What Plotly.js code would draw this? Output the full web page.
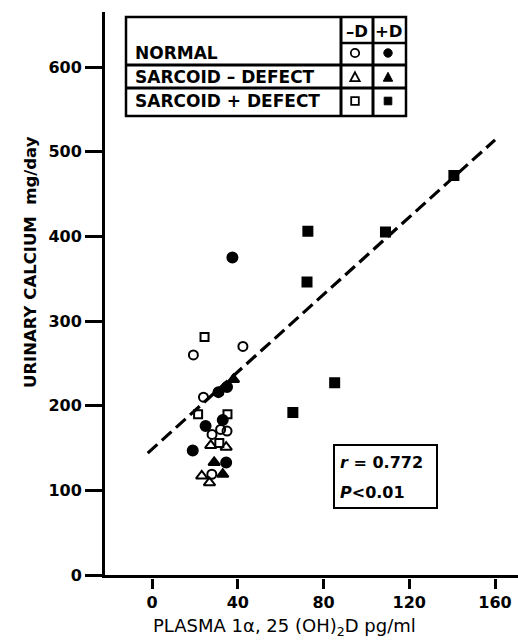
<!DOCTYPE html>
<html>
<head>
<meta charset="utf-8">
<script src="https://cdn.plot.ly/plotly-3.0.1.min.js"></script>
<style>html,body{margin:0;padding:0;background:#fff;}#chart{width:518px;height:642px;}</style>
</head>
<body>
<div id="chart"></div>
<script>
// ---- data ----
const normalMinusD_x = [19.3, 42.4, 24, 28, 32, 35, 27.9];
const normalMinusD_y = [260, 270, 210, 166, 172, 170, 119];
const normalPlusD_x = [37.5, 31, 35, 25, 33, 19, 34.6];
const normalPlusD_y = [375, 216, 222, 176, 183, 147, 133];
const sarcNoDefMinusD_x = [27.4, 34.6, 23.2, 26.8];
const sarcNoDefMinusD_y = [153, 151, 117, 109];
const sarcNoDefPlusD_x = [38, 29, 33];
const sarcNoDefPlusD_y = [231, 133, 119];
const sarcDefMinusD_x = [24.5, 21.5, 35.2, 31.4];
const sarcDefMinusD_y = [281, 190, 190, 156];
const sarcDefPlusD_x = [72.7, 72.3, 108.9, 140.8, 85.2, 65.7];
const sarcDefPlusD_y = [406, 346, 405, 472, 227, 192];
const regressionX = [-2, 160];
const regressionY = [144, 514];
const xTicks = [0, 40, 80, 120, 160];
const yTicks = [0, 100, 200, 300, 400, 500, 600];
const legendRows = ['NORMAL', 'SARCOID – DEFECT', 'SARCOID + DEFECT'];
const legendHeaders = ['–D', '+D'];
const statText = ['<i>r</i> = 0.772', '<i>P</i><0.01'];

// ---- layout geometry ----
const W = 518, H = 642, L = 105, R = 0, T = 12, B = 64;
const PW = W - L - R, PH = H - T - B;
const px = v => (v - L) / PW;
const py = v => (H - B - v) / PH;
const FONT = 'DejaVu Sans';

const mk = (x, y, symbol, size) => ({
  x: x, y: y, type: 'scatter', mode: 'markers', showlegend: false, hoverinfo: 'skip',
  marker: {symbol: symbol, size: size, color: '#000', line: {color: '#000', width: 2}}
});

const data = [
  {x: regressionX, y: regressionY, type: 'scatter', mode: 'lines', showlegend: false, hoverinfo: 'skip',
   line: {color: '#000', width: 3.2, dash: '13px,6px'}},
  // invisible helper so the lower tick-only x axis is drawn
  {x: regressionX, y: regressionY, xaxis: 'x2', type: 'scatter', mode: 'lines', showlegend: false,
   hoverinfo: 'skip', opacity: 0, line: {width: 0}},
  mk(normalMinusD_x, normalMinusD_y, 'circle-open', 9),
  mk(normalPlusD_x, normalPlusD_y, 'circle', 10),
  mk(sarcNoDefMinusD_x, sarcNoDefMinusD_y, 'triangle-up-open', 10),
  mk(sarcNoDefPlusD_x, sarcNoDefPlusD_y, 'triangle-up', 10),
  mk(sarcDefMinusD_x, sarcDefMinusD_y, 'square-open', 8),
  mk(sarcDefPlusD_x, sarcDefPlusD_y, 'square', 9)
];

// legend table shapes
const shapes = [];
const line = (x0, y0, x1, y1, w) => shapes.push({type: 'line', xref: 'paper', yref: 'paper',
  x0: px(x0), y0: py(y0), x1: px(x1), y1: py(y1), line: {color: '#000', width: w || 2.5}});
const LX0 = 126, LX1 = 406, LY0 = 17, LY1 = 116, C1 = 341, C2 = 373;
shapes.push({type: 'rect', xref: 'paper', yref: 'paper', x0: px(LX0), x1: px(LX1), y0: py(LY0), y1: py(LY1),
  line: {color: '#000', width: 2.5}, fillcolor: 'rgba(255,255,255,1)'});
line(C1, LY0, C1, LY1, 3);
line(C2, LY0, C2, LY1, 3);
line(C1, 43, LX1, 43);
line(LX0, 65, LX1, 65, 3);
line(LX0, 88, LX1, 88, 3);

const rowY = [53, 77, 101];
const colX = [355, 388];
const ms = 4.2;
rowY.forEach((cy, r) => {
  colX.forEach((cx, c) => {
    const filled = c === 1;
    const style = {line: {color: '#000', width: filled ? 1 : 1.8}, fillcolor: filled ? '#000' : '#fff'};
    if (r === 0) {
      shapes.push(Object.assign({type: 'circle', xref: 'paper', yref: 'paper',
        x0: px(cx - ms), x1: px(cx + ms), y0: py(cy - ms), y1: py(cy + ms)}, style));
    } else if (r === 1) {
      const p = `M ${px(cx)},${py(cy - ms - 0.5)} L ${px(cx + ms + 0.5)},${py(cy + ms)} L ${px(cx - ms - 0.5)},${py(cy + ms)} Z`;
      shapes.push(Object.assign({type: 'path', xref: 'paper', yref: 'paper', path: p}, style));
    } else {
      shapes.push(Object.assign({type: 'rect', xref: 'paper', yref: 'paper',
        x0: px(cx - ms + 0.4), x1: px(cx + ms - 0.4), y0: py(cy - ms + 0.4), y1: py(cy + ms - 0.4)}, style));
    }
  });
});
// stats box
shapes.push({type: 'rect', xref: 'paper', yref: 'paper', x0: px(334), x1: px(437), y0: py(445), y1: py(508),
  line: {color: '#000', width: 2}});

const annotations = [];
const ann = (text, x, y, xanchor, size, extra) => annotations.push(Object.assign({
  text: text, xref: 'paper', yref: 'paper', x: px(x), y: py(y), xanchor: xanchor, yanchor: 'middle',
  showarrow: false, font: {family: FONT, size: size, color: '#000', weight: 'bold'}}, extra || {}));
legendRows.forEach((t, i) => ann(t, 133, rowY[i], 'left', 17));
legendHeaders.forEach((t, i) => ann(t, [357, 389][i], 31, 'center', 16.5));
ann(statText[0], 338, 462, 'left', 16);
ann(statText[1], 338, 492, 'left', 16);
ann('URINARY CALCIUM  mg/day', 30, 262, 'center', 16.5, {textangle: -90});
ann('PLASMA 1α, 25 (OH)<sub>2</sub>D pg/ml', 284, 627, 'center', 18,
  {font: {family: FONT, size: 18, color: '#000', weight: 'normal'}});

const xr = [(L - 152) / 2.144, (W - R - 152) / 2.144];

const layout = {
  width: W, height: H,
  margin: {l: L, r: R, t: T, b: B, pad: 0},
  paper_bgcolor: '#fff', plot_bgcolor: '#fff',
  showlegend: false,
  font: {family: FONT, color: '#000'},
  xaxis: {range: xr, showgrid: false, zeroline: false, showline: true, linecolor: '#000', linewidth: 3,
    ticks: '', showticklabels: false, fixedrange: true},
  xaxis2: {range: xr, overlaying: 'x', anchor: 'free', position: 0, side: 'bottom',
    showgrid: false, zeroline: false, showline: false, ticks: 'outside', ticklen: 10, tickwidth: 3,
    tickcolor: '#000', tickvals: xTicks, ticktext: xTicks.map(String),
    tickfont: {family: FONT, size: 16, color: '#000', weight: 'bold'}},
  yaxis: {range: [0, 665], domain: [3 / PH, 1], showgrid: false, zeroline: false, showline: true,
    linecolor: '#000', linewidth: 3, ticks: 'outside', ticklen: 17, tickwidth: 3, tickcolor: '#000',
    tickvals: yTicks, ticktext: yTicks.map(String),
    tickfont: {family: FONT, size: 16, color: '#000', weight: 'bold'}},
  shapes: shapes,
  annotations: annotations
};

Plotly.newPlot('chart', data, layout, {displayModeBar: false, staticPlot: true});
</script>
</body>
</html>
